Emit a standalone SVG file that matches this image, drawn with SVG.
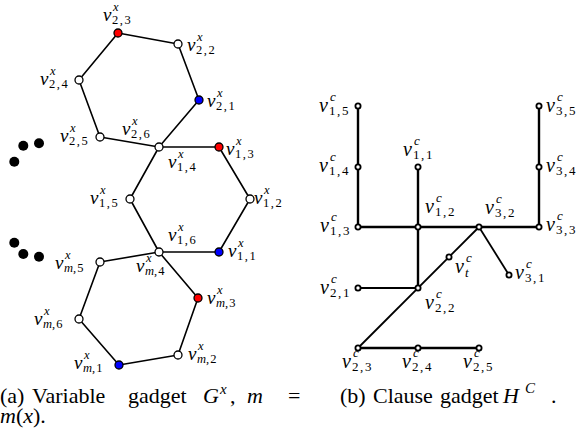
<svg xmlns="http://www.w3.org/2000/svg" width="579" height="443" viewBox="0 0 579 443">
<style>
.e{stroke:#000;stroke-width:1.6;fill:none;stroke-linecap:round}
.ce{stroke:#000;stroke-width:2.4;fill:none}
.cd{stroke:#000;stroke-width:1.8;fill:none}
.n{stroke:#000;stroke-width:1.3;fill:#fff}
.red{fill:#ff0000}
.blue{fill:#0000ff}
.cn{stroke:#000;stroke-width:1.8;fill:#fff}
.dot{fill:#000}
text{font-family:'Liberation Serif','Times New Roman',serif;fill:#000}
.v{font-style:italic;font-size:19px}
.s{font-size:12.5px;letter-spacing:1.6px}
.sm{font-size:12.5px;letter-spacing:1.2px}
.vc{font-style:italic;font-size:20px}
.sc{font-size:13px;letter-spacing:1.6px}
.i{font-style:italic;letter-spacing:0}
.cap{font-size:22px}
.ci{font-style:italic}
.csup{font-style:italic;font-size:15px}
</style>
<rect x="0" y="0" width="579" height="443" fill="#fff"/>

<g id="connectors">
  <g id="variable-edges">
    <line class="e" x1="118" y1="33" x2="178" y2="44"/>
    <line class="e" x1="178" y1="44" x2="199" y2="100"/>
    <line class="e" x1="199" y1="100" x2="159" y2="147"/>
    <line class="e" x1="159" y1="147" x2="100" y2="137"/>
    <line class="e" x1="100" y1="137" x2="79" y2="80"/>
    <line class="e" x1="79" y1="80" x2="118" y2="33"/>
    <line class="e" x1="159" y1="147" x2="219" y2="147"/>
    <line class="e" x1="219" y1="147" x2="250" y2="199"/>
    <line class="e" x1="250" y1="199" x2="219" y2="252"/>
    <line class="e" x1="219" y1="252" x2="159" y2="252"/>
    <line class="e" x1="159" y1="252" x2="130" y2="199"/>
    <line class="e" x1="130" y1="199" x2="159" y2="147"/>
    <line class="e" x1="159" y1="252" x2="198" y2="298"/>
    <line class="e" x1="198" y1="298" x2="178" y2="355"/>
    <line class="e" x1="178" y1="355" x2="119" y2="365"/>
    <line class="e" x1="119" y1="365" x2="79" y2="319"/>
    <line class="e" x1="79" y1="319" x2="100" y2="262"/>
    <line class="e" x1="100" y1="262" x2="159" y2="252"/>
  </g>
  <g id="clause-edges">
    <line class="ce" x1="358" y1="106" x2="358" y2="227"/>
    <line class="ce" x1="358" y1="227" x2="539" y2="227"/>
    <line class="ce" x1="418" y1="167" x2="418" y2="288"/>
    <line class="ce" x1="539" y1="106" x2="539" y2="227"/>
    <line class="cd" x1="358" y1="288" x2="418" y2="288"/>
    <line class="cd" x1="479" y1="227" x2="509" y2="275"/>
    <line class="cd" x1="479" y1="227" x2="358" y2="348"/>
    <line class="ce" x1="358" y1="348" x2="479" y2="348"/>
  </g>
</g>

<g id="dots">
  <circle class="dot" cx="23.3" cy="145.7" r="5"/>
  <circle class="dot" cx="39" cy="143.3" r="5"/>
  <circle class="dot" cx="14.3" cy="161.7" r="5"/>
  <circle class="dot" cx="14.3" cy="242.7" r="5"/>
  <circle class="dot" cx="23.3" cy="254" r="5"/>
  <circle class="dot" cx="39" cy="256.7" r="5"/>
</g>

<!-- Variable gadget nodes -->
<g id="v23x">
  <circle class="n red" cx="118" cy="33" r="4"/>
  <text class="v" x="103" y="21">v</text><text class="s i" x="113" y="11">x</text><text class="s" x="112" y="23.5">2,3</text>
</g>
<g id="v22x">
  <circle class="n" cx="178" cy="44" r="4"/>
  <text class="v" x="187" y="51">v</text><text class="s i" x="197" y="41">x</text><text class="s" x="196" y="53.5">2,2</text>
</g>
<g id="v21x">
  <circle class="n blue" cx="199" cy="100" r="4"/>
  <text class="v" x="207" y="107">v</text><text class="s i" x="217" y="97">x</text><text class="s" x="216" y="109.5">2,1</text>
</g>
<g id="v24x">
  <circle class="n" cx="79" cy="80" r="4"/>
  <text class="v" x="40" y="85">v</text><text class="s i" x="50" y="75">x</text><text class="s" x="49" y="87.5">2,4</text>
</g>
<g id="v25x">
  <circle class="n" cx="100" cy="137" r="4"/>
  <text class="v" x="60" y="142">v</text><text class="s i" x="70" y="132">x</text><text class="s" x="69" y="144.5">2,5</text>
</g>
<g id="v26x-v14x">
  <circle class="n" cx="159" cy="147" r="4"/>
  <text class="v" x="122" y="135">v</text><text class="s i" x="132" y="125">x</text><text class="s" x="131" y="137.5">2,6</text>
  <text class="v" x="168" y="168">v</text><text class="s i" x="178" y="158">x</text><text class="s" x="177" y="170.5">1,4</text>
</g>
<g id="v13x">
  <circle class="n red" cx="219" cy="147" r="4"/>
  <text class="v" x="226" y="155">v</text><text class="s i" x="236" y="145">x</text><text class="s" x="235" y="157.5">1,3</text>
</g>
<g id="v15x">
  <circle class="n" cx="130" cy="199" r="4"/>
  <text class="v" x="90" y="204">v</text><text class="s i" x="100" y="194">x</text><text class="s" x="99" y="206.5">1,5</text>
</g>
<g id="v12x">
  <circle class="n" cx="250" cy="199" r="4"/>
  <text class="v" x="254" y="204">v</text><text class="s i" x="264" y="194">x</text><text class="s" x="263" y="206.5">1,2</text>
</g>
<g id="v16x-vm4x">
  <circle class="n" cx="159" cy="252" r="4"/>
  <text class="v" x="168" y="241">v</text><text class="s i" x="178" y="231">x</text><text class="s" x="177" y="243.5">1,6</text>
  <text class="v" x="136" y="272">v</text><text class="s i" x="146" y="262">x</text><text class="sm" x="145" y="274.5"><tspan class="i">m</tspan>,4</text>
</g>
<g id="v11x">
  <circle class="n blue" cx="219" cy="252" r="4"/>
  <text class="v" x="228" y="257">v</text><text class="s i" x="238" y="247">x</text><text class="s" x="237" y="259.5">1,1</text>
</g>
<g id="vm5x">
  <circle class="n" cx="100" cy="262" r="4"/>
  <text class="v" x="55" y="269">v</text><text class="s i" x="65" y="259">x</text><text class="sm" x="64" y="271.5"><tspan class="i">m</tspan>,5</text>
</g>
<g id="vm3x">
  <circle class="n red" cx="198" cy="298" r="4"/>
  <text class="v" x="207" y="304">v</text><text class="s i" x="217" y="294">x</text><text class="sm" x="216" y="306.5"><tspan class="i">m</tspan>,3</text>
</g>
<g id="vm6x">
  <circle class="n" cx="79" cy="319" r="4"/>
  <text class="v" x="34" y="325">v</text><text class="s i" x="44" y="315">x</text><text class="sm" x="43" y="327.5"><tspan class="i">m</tspan>,6</text>
</g>
<g id="vm2x">
  <circle class="n" cx="178" cy="355" r="4"/>
  <text class="v" x="188" y="360">v</text><text class="s i" x="198" y="350">x</text><text class="sm" x="197" y="362.5"><tspan class="i">m</tspan>,2</text>
</g>
<g id="vm1x">
  <circle class="n blue" cx="119" cy="365" r="4"/>
  <text class="v" x="74" y="369">v</text><text class="s i" x="84" y="359">x</text><text class="sm" x="83" y="371.5"><tspan class="i">m</tspan>,1</text>
</g>

<!-- Clause gadget nodes -->
<g id="v15c">
  <circle class="cn" cx="358" cy="106" r="2.6"/>
  <text class="vc" x="319" y="112">v</text><text class="sc i" x="330" y="101">c</text><text class="sc" x="329" y="114.5">1,5</text>
</g>
<g id="v14c">
  <circle class="cn" cx="358" cy="167" r="2.6"/>
  <text class="vc" x="319" y="172">v</text><text class="sc i" x="330" y="161">c</text><text class="sc" x="329" y="174.5">1,4</text>
</g>
<g id="v13c">
  <circle class="cn" cx="358" cy="227" r="2.6"/>
  <text class="vc" x="320" y="232">v</text><text class="sc i" x="331" y="221">c</text><text class="sc" x="330" y="234.5">1,3</text>
</g>
<g id="v11c">
  <circle class="cn" cx="418" cy="167" r="2.6"/>
  <text class="vc" x="403" y="156">v</text><text class="sc i" x="414" y="145">c</text><text class="sc" x="413" y="158.5">1,1</text>
</g>
<g id="v12c">
  <circle class="cn" cx="418" cy="227" r="2.6"/>
  <text class="vc" x="425" y="213">v</text><text class="sc i" x="436" y="202">c</text><text class="sc" x="435" y="215.5">1,2</text>
</g>
<g id="v32c">
  <circle class="cn" cx="479" cy="227" r="2.6"/>
  <text class="vc" x="485" y="214">v</text><text class="sc i" x="496" y="203">c</text><text class="sc" x="495" y="216.5">3,2</text>
</g>
<g id="v35c">
  <circle class="cn" cx="539" cy="106" r="2.6"/>
  <text class="vc" x="546" y="112">v</text><text class="sc i" x="557" y="101">c</text><text class="sc" x="556" y="114.5">3,5</text>
</g>
<g id="v34c">
  <circle class="cn" cx="539" cy="167" r="2.6"/>
  <text class="vc" x="546" y="172">v</text><text class="sc i" x="557" y="161">c</text><text class="sc" x="556" y="174.5">3,4</text>
</g>
<g id="v33c">
  <circle class="cn" cx="539" cy="227" r="2.6"/>
  <text class="vc" x="546" y="231">v</text><text class="sc i" x="557" y="220">c</text><text class="sc" x="556" y="233.5">3,3</text>
</g>
<g id="vtc">
  <circle class="cn" cx="449" cy="257" r="2.6"/>
  <text class="vc" x="455" y="273">v</text><text class="sc i" x="466" y="262">c</text><text class="sc i" x="465" y="277">t</text>
</g>
<g id="v31c">
  <circle class="cn" cx="509" cy="275" r="2.6"/>
  <text class="vc" x="515" y="279">v</text><text class="sc i" x="526" y="268">c</text><text class="sc" x="525" y="281.5">3,1</text>
</g>
<g id="v21c">
  <circle class="cn" cx="358" cy="288" r="2.6"/>
  <text class="vc" x="320" y="294">v</text><text class="sc i" x="331" y="283">c</text><text class="sc" x="330" y="296.5">2,1</text>
</g>
<g id="v22c">
  <circle class="cn" cx="418" cy="288" r="2.6"/>
  <text class="vc" x="425" y="309">v</text><text class="sc i" x="436" y="298">c</text><text class="sc" x="435" y="311.5">2,2</text>
</g>
<g id="v23c">
  <circle class="cn" cx="358" cy="348" r="2.6"/>
  <text class="vc" x="342" y="368">v</text><text class="sc i" x="353" y="357">c</text><text class="sc" x="352" y="370.5">2,3</text>
</g>
<g id="v24c">
  <circle class="cn" cx="418" cy="348" r="2.6"/>
  <text class="vc" x="402" y="368">v</text><text class="sc i" x="413" y="357">c</text><text class="sc" x="412" y="370.5">2,4</text>
</g>
<g id="v25c">
  <circle class="cn" cx="479" cy="348" r="2.6"/>
  <text class="vc" x="463" y="368">v</text><text class="sc i" x="474" y="357">c</text><text class="sc" x="473" y="370.5">2,5</text>
</g>

<g id="caption-a">
  <text class="cap" x="0" y="403">(a)</text>
  <text class="cap" x="32" y="403">Variable</text>
  <text class="cap" x="128" y="403">gadget</text>
  <text class="cap ci" x="203" y="403">G</text>
  <text class="csup" x="220" y="394">x</text>
  <text class="cap" x="230" y="403">,</text>
  <text class="cap ci" x="247" y="403">m</text>
  <text class="cap" x="288" y="403">=</text>
  <text class="cap" x="0" y="423"><tspan class="ci">m</tspan>(<tspan class="ci">x</tspan>).</text>
</g>
<g id="caption-b">
  <text class="cap" x="340" y="403">(b)</text>
  <text class="cap" x="373" y="403">Clause</text>
  <text class="cap" x="440" y="403">gadget</text>
  <text class="cap ci" x="503" y="403">H</text>
  <text class="csup" x="525" y="393">C</text>
  <text class="cap" x="551" y="403">.</text>
</g>
</svg>
